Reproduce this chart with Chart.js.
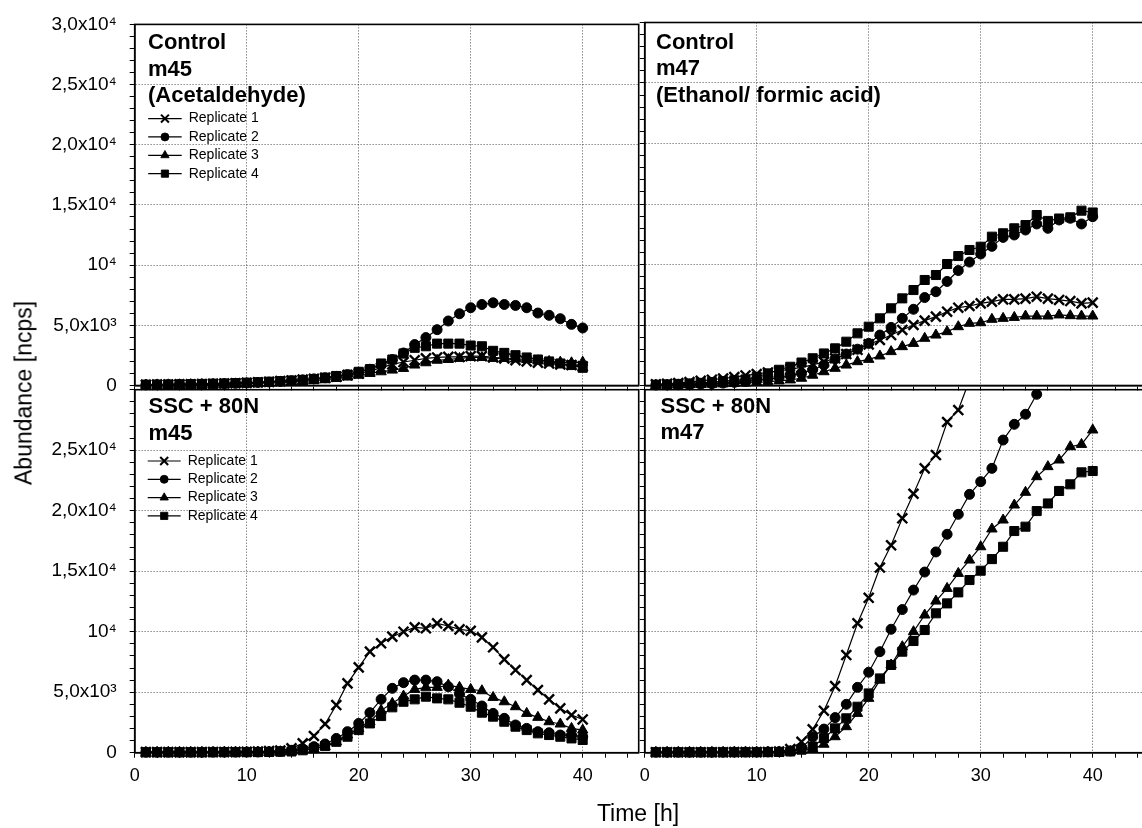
<!DOCTYPE html>
<html>
<head>
<meta charset="utf-8">
<script src="https://cdn.jsdelivr.net/npm/chart.js@4.4.1/dist/chart.umd.min.js"></script>
<style>
  html, body { margin: 0; padding: 0; background: #fff; overflow: hidden; }
  #page { position: relative; width: 1142px; height: 828px; overflow: hidden; font-family: "Liberation Sans", Arial, sans-serif; color: #000; }
  #page canvas { position: absolute; left: 0; top: 0; }
  .panel-title { position: absolute; font-weight: bold; font-size: 22px; line-height: 26.5px; white-space: nowrap; }
  .axis-title { position: absolute; font-size: 23px; line-height: 23px; white-space: nowrap; }
</style>
</head>
<body>
<div id="page">
  <canvas id="ctrlM45" width="1160" height="828"></canvas>
  <canvas id="ctrlM47" width="1160" height="828"></canvas>
  <canvas id="sscM45" width="1160" height="828"></canvas>
  <canvas id="sscM47" width="1160" height="828"></canvas>

  <div class="panel-title" style="left:148px;top:29px">Control<br>m45<br>(Acetaldehyde)</div>
  <div class="panel-title" style="left:656px;top:28.5px">Control<br>m47<br>(Ethanol/ formic acid)</div>
  <div class="panel-title" style="left:148.5px;top:393px">SSC + 80N<br>m45</div>
  <div class="panel-title" style="left:660.5px;top:392.5px">SSC + 80N<br>m47</div>

  <div class="axis-title" style="left:24px;top:393px;transform:translate(-50%,-50%) rotate(-90deg)">Abundance [ncps]</div>
  <div class="axis-title" style="left:638px;top:802px;transform:translateX(-50%)">Time [h]</div>
</div>

<script>
const hours = [1,2,3,4,5,6,7,8,9,10,11,12,13,14,15,16,17,18,19,20,21,22,23,24,25,26,27,28,29,30,31,32,33,34,35,36,37,38,39,40]
const replicateLabels = ['Replicate 1', 'Replicate 2', 'Replicate 3', 'Replicate 4']

const xTickValues = [0, 10, 20, 30, 40]
const xTickLabels = ['0', '10', '20', '30', '40']
const yTickValues = [0, 5000, 10000, 15000, 20000, 25000, 30000]
const yTickLabels = ['0', '5,0x10³', '10⁴', '1,5x10⁴', '2,0x10⁴', '2,5x10⁴', '3,0x10⁴']

// Control, m45 (Acetaldehyde)
const ctrlM45Rep1 = [60,70,80,90,100,120,140,160,190,220,260,300,360,420,490,560,640,740,860,1000,1200,1480,1750,1950,2100,2250,2330,2380,2380,2440,2440,2330,2250,2100,2000,1900,1830,1750,1700,1600]
const ctrlM45Rep2 = [50,60,70,80,100,110,130,150,180,210,250,290,340,400,470,550,640,760,900,1100,1350,1700,2150,2700,3400,3980,4640,5360,5960,6460,6730,6870,6730,6650,6460,6020,5830,5550,5080,4780]
const ctrlM45Rep3 = [40,50,55,60,70,80,90,110,130,150,180,210,250,290,340,400,480,580,700,850,1000,1140,1280,1420,1700,1890,2100,2160,2250,2330,2330,2250,2250,2200,2160,2050,2000,1940,1890,1940]
const ctrlM45Rep4 = [70,80,90,100,110,130,150,170,200,230,270,310,360,410,450,540,650,790,900,1140,1360,1830,2160,2660,3130,3260,3480,3480,3480,3320,3260,2880,2710,2520,2330,2160,2000,1830,1700,1470]

// Control, m47 (Ethanol/ formic acid)
const ctrlM47Rep1 = [100,150,200,280,380,480,580,700,830,950,1080,1200,1350,1500,1700,1950,2250,2600,2950,3400,3760,4170,4590,5000,5360,5690,6100,6430,6570,6790,6930,7120,7120,7180,7340,7180,7070,6980,6790,6850]
const ctrlM47Rep2 = [40,50,60,80,110,150,200,260,330,420,520,650,800,1000,1300,1700,2200,2600,3000,3480,4170,4800,5550,6300,7270,7750,8600,9500,10200,10870,11500,12240,12440,12850,13350,12990,13680,13820,13350,13950]
const ctrlM47Rep3 = [30,40,50,60,80,100,130,160,200,250,310,380,460,600,850,1140,1420,1690,1970,2160,2440,2800,3210,3480,3900,4170,4450,4860,5140,5190,5470,5550,5630,5740,5740,5740,5830,5770,5740,5740]
const ctrlM47Rep4 = [60,90,130,170,220,290,360,430,500,700,1000,1300,1550,1900,2250,2650,3070,3620,4310,4860,5550,6380,7200,7890,8720,9130,10040,10700,11200,11470,12300,12580,12990,13260,14090,13600,13800,13900,14450,14300]

// SSC + 80N, m45
const sscM45Rep1 = [50,50,50,50,50,50,60,60,70,80,100,130,180,360,770,1380,2370,3940,5730,7050,8350,9040,9590,10000,10360,10280,10690,10470,10190,10080,9530,8710,7710,6830,6000,5180,4410,3660,3110,2750]
const sscM45Rep2 = [40,40,40,40,40,40,50,50,50,60,60,80,110,200,300,500,720,1180,1740,2420,3310,4410,5320,5790,6000,6000,5870,5450,4850,4410,3860,3250,2840,2290,2010,1740,1650,1460,1460,1320]
const sscM45Rep3 = [30,30,30,30,30,30,30,40,40,40,50,60,80,100,200,320,500,900,1460,2000,2560,3500,4080,4680,5230,5400,5400,5590,5400,5230,5120,4570,4210,3800,3250,2920,2560,2370,2010,1870]
const sscM45Rep4 = [30,30,30,30,30,30,30,40,40,40,50,60,80,100,200,360,550,900,1320,1870,2420,3030,3750,4210,4410,4630,4490,4410,4130,3800,3310,2980,2560,2150,1870,1600,1460,1320,1180,1050]

// SSC + 80N, m47 (replicates 1 and 2 leave the axis range)
const sscM47Rep1 = [40,40,40,40,40,40,40,50,50,50,60,100,300,900,1930,3470,5500,8070,10700,12800,15300,17140,19370,21400,23500,24600,27330,28320,30800,null,null,null,null,null,null,null,null,null,null,null]
const sscM47Rep2 = [40,40,40,40,40,40,40,50,50,50,60,80,150,400,1300,1950,2900,4000,5400,6650,8350,10200,11830,13440,14930,16590,18050,19700,21350,22400,23500,25840,27140,27970,29620,31000,null,null,null,null]
const sscM47Rep3 = [30,30,30,30,30,30,30,40,40,40,50,60,100,200,300,700,1320,2150,3250,4490,6000,7250,8760,10000,11380,12530,13580,14820,15920,17020,18490,19230,20470,21520,22810,23640,24190,25290,25480,26670]
const sscM47Rep4 = [30,30,30,30,30,30,30,40,40,40,50,60,100,250,500,1200,2010,2840,3800,4900,6140,7250,8350,9230,10140,11520,12340,13250,14270,15040,16000,17020,18320,18680,19970,20600,21630,22180,23170,23280]

const markerStyles = [
  { pointStyle: 'crossRot', pointRadius: 7, pointBorderWidth: 2.4 },
  { pointStyle: 'circle', pointRadius: 5, pointBorderWidth: 1 },
  { pointStyle: 'triangle', pointRadius: 6, pointBorderWidth: 1 },
  { pointStyle: 'rect', pointRadius: 6.4, pointBorderWidth: 1 }
]

const gridColor = 'rgba(50,50,50,0.85)'
const FONT = '"Liberation Sans", Arial, sans-serif'

Chart.defaults.font.family = FONT
Chart.defaults.font.size = 18
Chart.defaults.color = '#000'

const panelFrame = {
  id: 'panelFrame',
  beforeDatasetsDraw(chart) {
    const { ctx, chartArea } = chart
    ctx.save()
    ctx.strokeStyle = '#000'
    ctx.lineWidth = 1.6
    ctx.strokeRect(chartArea.left, chartArea.top, chartArea.right - chartArea.left, chartArea.bottom - chartArea.top)
    ctx.restore()
  }
}

const replicateLegend = {
  id: 'replicateLegend',
  afterDatasetsDraw(chart, args, opts) {
    if (!opts.show) return
    const { ctx, chartArea } = chart
    ctx.save()
    ctx.font = '14px ' + FONT
    ctx.textBaseline = 'middle'
    chart.data.datasets.forEach((ds, i) => {
      const x = chartArea.left + opts.x
      const y = chartArea.top + opts.y + i * opts.gap
      ctx.strokeStyle = '#000'
      ctx.fillStyle = '#000'
      ctx.lineWidth = 1.2
      ctx.beginPath()
      ctx.moveTo(x, y)
      ctx.lineTo(x + opts.lineLen, y)
      ctx.stroke()
      ctx.lineWidth = ds.pointBorderWidth * 0.85
      Chart.helpers.drawPoint(ctx, { pointStyle: ds.pointStyle, radius: ds.pointRadius * 0.8, borderWidth: ds.pointBorderWidth, rotation: 0 }, x + opts.lineLen / 2, y)
      ctx.fillText(ds.label, x + opts.lineLen + 7, y)
    })
    ctx.restore()
  }
}

function buildDatasets(seriesList) {
  return seriesList.map((values, i) => ({
    label: replicateLabels[i],
    data: hours.map((h, j) => ({ x: h, y: values[j] })),
    borderColor: '#000',
    backgroundColor: '#000',
    borderWidth: 1.2,
    pointBackgroundColor: '#000',
    pointBorderColor: '#000',
    ...markerStyles[i],
    tension: 0,
    clip: { left: false, right: false, top: 0, bottom: false }
  }))
}

function makePanel(canvasId, seriesList, opt) {
  new Chart(document.getElementById(canvasId), {
    type: 'line',
    data: { datasets: buildDatasets(seriesList) },
    options: {
      responsive: false,
      animation: false,
      devicePixelRatio: 1,
      layout: { padding: opt.padding },
      plugins: {
        legend: { display: false },
        tooltip: { enabled: false },
        title: { display: false },
        replicateLegend: opt.legend || { show: false }
      },
      scales: {
        x: {
          type: 'linear',
          min: 0,
          max: 45,
          afterFit: (scale) => { scale.height = 40 },
          grid: {
            color: (c) => (c.tick && c.tick.value !== 0 && xTickValues.includes(c.tick.value)) ? gridColor : 'rgba(0,0,0,0)',
            tickColor: '#000',
            tickLength: 5,
            tickWidth: 1
          },
          border: { color: '#000', width: 1.6, dash: [1, 2] },
          ticks: {
            display: opt.xLabels,
            stepSize: 2,
            autoSkip: false,
            includeBounds: false,
            maxRotation: 0,
            padding: 8,
            callback: (v) => {
              const i = xTickValues.indexOf(v)
              return i >= 0 ? xTickLabels[i] : ''
            }
          }
        },
        y: {
          min: 0,
          max: 30000,
          afterFit: (scale) => { scale.width = 100 },
          grid: {
            color: (c) => (c.tick && c.tick.value !== 0 && yTickValues.includes(c.tick.value)) ? gridColor : 'rgba(0,0,0,0)',
            tickColor: '#000',
            tickLength: 5,
            tickWidth: 1
          },
          border: { color: '#000', width: 1.6, dash: [1, 2] },
          ticks: {
            display: opt.yLabels,
            stepSize: 1000,
            autoSkip: false,
            includeBounds: false,
            padding: 13,
            font: { size: 19 },
            callback: (v) => {
              if (opt.hideTopLabel && v === 30000) return ''
              const i = yTickValues.indexOf(v)
              return i >= 0 ? yTickLabels[i] : ''
            }
          }
        }
      }
    },
    plugins: [panelFrame, replicateLegend]
  })
}

makePanel('ctrlM45', [ctrlM45Rep1, ctrlM45Rep2, ctrlM45Rep3, ctrlM45Rep4], {
  padding: { left: 34.7, right: 521.3, top: 22.5, bottom: 402.5 },
  xLabels: false, yLabels: true, hideTopLabel: false,
  legend: { show: true, x: 13.5, y: 94.2, gap: 18.35, lineLen: 33.5 }
})
makePanel('ctrlM47', [ctrlM47Rep1, ctrlM47Rep2, ctrlM47Rep3, ctrlM47Rep4], {
  padding: { left: 544.7, right: 11.3, top: 22.5, bottom: 402.5 },
  xLabels: false, yLabels: false
})
makePanel('sscM45', [sscM45Rep1, sscM45Rep2, sscM45Rep3, sscM45Rep4], {
  padding: { left: 34.7, right: 521.3, top: 389.7, bottom: 35.3 },
  xLabels: true, yLabels: true, hideTopLabel: true,
  legend: { show: true, x: 13, y: 71.3, gap: 18.3, lineLen: 33 }
})
makePanel('sscM47', [sscM47Rep1, sscM47Rep2, sscM47Rep3, sscM47Rep4], {
  padding: { left: 544.7, right: 11.3, top: 389.7, bottom: 35.3 },
  xLabels: true, yLabels: false
})
</script>
</body>
</html>
